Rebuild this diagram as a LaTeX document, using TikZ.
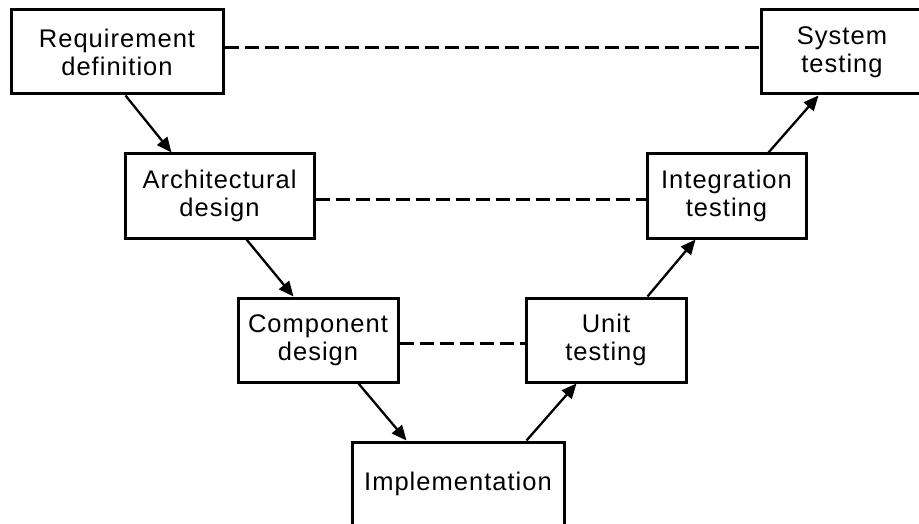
\documentclass[tikz,border=0pt]{standalone}
\usepackage{fontspec}
\setmainfont{Liberation Sans}[LetterSpace=4]
\usetikzlibrary{arrows.meta}
\tikzset{
  stage/.style={draw=black, line width=3pt, rectangle, fill=white, minimum height=84pt,
    inner sep=0pt, align=center, font=\fontsize{25.5}{28}\selectfont, text=black},
  flow/.style={line width=2.3pt, -{Triangle[length=15pt,width=13pt]}},
  trace/.style={line width=3pt, dash pattern=on 14pt off 6pt}
}
\begin{document}
\begin{tikzpicture}[x=1pt,y=-1pt]
\path[use as bounding box, clip] (0,0) rectangle (919,524);
\fill[white] (0,0) rectangle (919,524);
\node[stage, minimum width=212pt] (req) at (117,52) {Requirement\\definition};
\node[stage, minimum width=162pt] (sys) at (842,52) {System\\testing};
\node[stage, minimum width=189pt] (arch) at (219.5,196) {Architectural\\design};
\node[stage, minimum width=159pt] (integ) at (726.5,196) {Integration\\testing};
\node[stage, minimum width=160pt] (comp) at (318,340) {Component\\design};
\node[stage, minimum width=160pt] (unit) at (606,340) {Unit\\testing};
\node[stage, minimum width=212pt] (impl) at (458,484) {Implementation};

\draw[trace] ([yshift=4pt]req.east) -- ([yshift=4pt]req.east -| sys.west);
\draw[trace] ([yshift=-4pt]arch.east) -- ([yshift=-4pt]arch.east -| integ.west);
\draw[trace] ([yshift=-3pt]comp.east) -- ([yshift=-3pt]comp.east -| unit.west);

\draw[flow] ([xshift=116pt]req.south west) -- ([xshift=48pt]arch.north west);
\draw[flow] ([xshift=123pt]arch.south west) -- ([xshift=57pt]comp.north west);
\draw[flow] ([xshift=122pt]comp.south west) -- ([xshift=56pt]impl.north west);
\draw[flow] ([xshift=176pt]impl.north west) -- ([xshift=52pt]unit.south west);
\draw[flow] ([xshift=123pt]unit.north west) -- ([xshift=50pt]integ.south west);
\draw[flow] ([xshift=123pt]integ.north west) -- ([xshift=59pt]sys.south west);
\end{tikzpicture}
\end{document}
